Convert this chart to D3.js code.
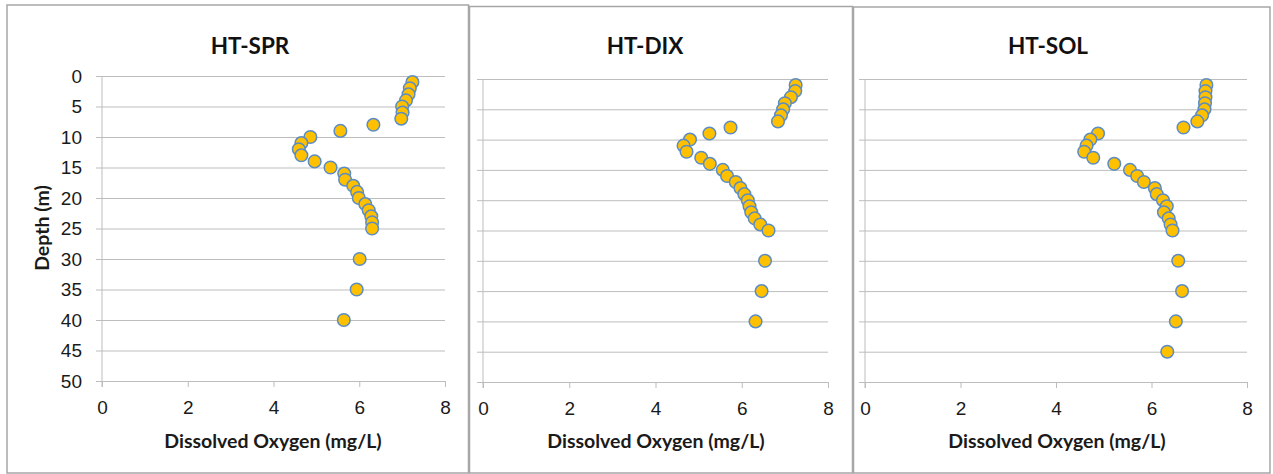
<!DOCTYPE html>
<html>
<head>
<meta charset="utf-8">
<script src="https://cdn.jsdelivr.net/npm/d3@7"></script>
<style>
  body { margin: 0; background: #fff; }
  svg { display: block; font-family: Lato, "Open Sans", sans-serif; }
</style>
</head>
<body>
<svg id="chart" width="1273" height="474"></svg>
<script>
// depth (m) of every sample, shared by the three stations
var depthSPR = [1,2,3,4,5,6,7,8,9,10,11,12,13,14,15,16,17,18,19,20,21,22,23,24,25,30,35,40];
var depthDIX = [1,2,3,4,5,6,7,8,9,10,11,12,13,14,15,16,17,18,19,20,21,22,23,24,25,30,35,40];
var depthSOL = [1,2,3,4,5,6,7,8,9,10,11,12,13,14,15,16,17,18,19,20,21,22,23,24,25,30,35,40,45];

// dissolved oxygen (mg/L)
var doSPR = [7.24,7.18,7.15,7.09,7.00,7.01,6.98,6.33,5.56,4.86,4.65,4.59,4.65,4.96,5.33,5.65,5.67,5.86,5.95,5.99,6.14,6.22,6.28,6.30,6.30,6.01,5.94,5.64];
var doDIX = [7.25,7.24,7.14,7.00,6.96,6.91,6.84,5.74,5.25,4.80,4.65,4.72,5.06,5.26,5.56,5.66,5.86,5.97,6.06,6.14,6.18,6.22,6.30,6.43,6.62,6.54,6.46,6.32];
var doSOL = [7.15,7.13,7.13,7.12,7.11,7.06,6.96,6.67,4.88,4.72,4.64,4.59,4.78,5.22,5.55,5.70,5.84,6.07,6.11,6.24,6.32,6.26,6.36,6.40,6.44,6.56,6.64,6.51,6.33];

var stations = ["HT-SPR", "HT-DIX", "HT-SOL"];
var oxygenTicks = [0, 2, 4, 6, 8];
var depthTicks = [0, 5, 10, 15, 20, 25, 30, 35, 40, 45, 50];

var panels = [
  { name: stations[0], depth: depthSPR, oxy: doSPR,
    box: [7, 5, 468.5, 473], plot: [102, 76, 445, 381], yLabels: true, titleX: 250, xTitleX: 273 },
  { name: stations[1], depth: depthDIX, oxy: doDIX,
    box: [469.5, 6.5, 852.5, 473], plot: [483, 79, 828, 382], yLabels: false, titleX: 645, xTitleX: 656 },
  { name: stations[2], depth: depthSOL, oxy: doSOL,
    box: [853.5, 7, 1270, 473], plot: [865, 79, 1247, 382], yLabels: false, titleX: 1048, xTitleX: 1057 }
];

var svg = d3.select("#chart");
var gridColor = "#bdbdbd";

panels.forEach(function(p) {
  var g = svg.append("g");

  // chart frame
  g.append("rect")
    .attr("x", p.box[0]).attr("y", p.box[1])
    .attr("width", p.box[2] - p.box[0]).attr("height", p.box[3] - p.box[1])
    .attr("fill", "#fff")
    .attr("stroke", "#a6a6a6")
    .attr("stroke-width", 1.5);

  var x = d3.scaleLinear().domain([0, 8]).range([p.plot[0], p.plot[2]]);
  var y = d3.scaleLinear().domain([0, 50]).range([p.plot[1], p.plot[3]]);
  var w = p.plot[2] - p.plot[0];

  // horizontal gridlines + depth labels
  var yAxis = g.append("g")
    .attr("transform", "translate(" + (p.plot[0] - 6) + ",0)")
    .call(d3.axisLeft(y).tickValues(depthTicks).tickSize(-(w + 6)).tickPadding(14));
  yAxis.select(".domain").remove();
  yAxis.selectAll(".tick line").attr("stroke", gridColor);
  yAxis.selectAll(".tick text")
    .attr("fill", "#1a1a1a")
    .style("font-size", "19px")
    .style("display", p.yLabels ? null : "none");

  // oxygen axis ticks and labels
  var xAxis = g.append("g")
    .attr("transform", "translate(0," + p.plot[3] + ")")
    .call(d3.axisBottom(x).tickValues(oxygenTicks).tickSize(6).tickPadding(14));
  xAxis.select(".domain").remove();
  xAxis.selectAll(".tick line").attr("stroke", gridColor);
  xAxis.selectAll(".tick text")
    .attr("fill", "#1a1a1a")
    .style("font-size", "19px");

  // vertical axis line
  g.append("line")
    .attr("x1", x(0)).attr("x2", x(0))
    .attr("y1", y(0)).attr("y2", y(50) + 6)
    .attr("stroke", gridColor);

  // station title
  g.append("text")
    .attr("x", p.titleX).attr("y", 54)
    .attr("text-anchor", "middle")
    .style("font-size", "22.5px").style("font-weight", "bold")
    .attr("fill", "#111")
    .text(p.name);

  g.append("text")
    .attr("x", p.xTitleX).attr("y", 448)
    .attr("text-anchor", "middle")
    .style("font-size", "19.5px").style("font-weight", "bold")
    .attr("fill", "#1a1a1a")
    .text("Dissolved Oxygen (mg/L)");

  if (p.yLabels) {
    g.append("text")
      .attr("transform", "translate(49,228) rotate(-90)")
      .attr("text-anchor", "middle")
      .style("font-size", "19.5px").style("font-weight", "bold")
      .attr("fill", "#1a1a1a")
      .text("Depth (m)");
  }

  // profile points
  g.selectAll("circle")
    .data(p.depth.map(function(d, i) { return { depth: d, oxy: p.oxy[i] }; }))
    .enter()
    .append("circle")
    .attr("cx", function(d) { return x(d.oxy); })
    .attr("cy", function(d) { return y(d.depth); })
    .attr("r", 6.3)
    .attr("fill", "#ffc000")
    .attr("stroke", "#5b8cc4")
    .attr("stroke-width", 1.5);
});
</script>
</body>
</html>
